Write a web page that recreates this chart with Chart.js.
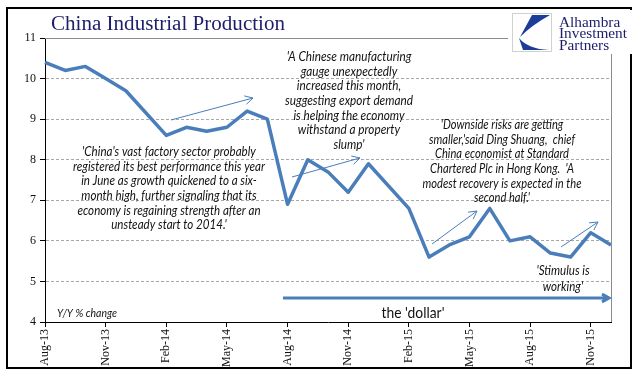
<!DOCTYPE html>
<html>
<head>
<meta charset="utf-8">
<title>China Industrial Production</title>
<script src="https://cdn.jsdelivr.net/npm/chart.js@4.4.1/dist/chart.umd.min.js"></script>
<style>
html, body { margin: 0; padding: 0; background: #fff; }
#wrap { width: 641px; height: 379px; }
</style>
</head>
<body>
<div id="wrap"><canvas id="chart" width="641" height="379"></canvas></div>
<script>
(function() {
    "use strict";

    // monthly, Jan figures are folded into Jan-Feb by NBS so they are missing
    var MONTHS = [
        "Aug-13", "Sep-13", "Oct-13", "Nov-13", "Dec-13",
        "Jan-14", "Feb-14", "Mar-14", "Apr-14", "May-14", "Jun-14", "Jul-14",
        "Aug-14", "Sep-14", "Oct-14", "Nov-14", "Dec-14",
        "Jan-15", "Feb-15", "Mar-15", "Apr-15", "May-15", "Jun-15", "Jul-15",
        "Aug-15", "Sep-15", "Oct-15", "Nov-15", "Dec-15"
    ];
    var IP_YOY = [
        10.4, 10.2, 10.3, 10.0, 9.7,
        null, 8.6, 8.8, 8.7, 8.8, 9.2, 9.0,
        6.9, 8.0, 7.7, 7.2, 7.9,
        null, 6.8, 5.6, 5.9, 6.1, 6.8, 6.0,
        6.1, 5.7, 5.6, 6.2, 5.9
    ];
    var Y_MIN = 4;
    var Y_MAX = 11;

    var TITLE = "China Industrial Production";
    var LOGO_LINES = ["Alhambra", "Investment", "Partners"];
    var UNIT_NOTE = "Y/Y % change";
    var DOLLAR_NOTE = "the 'dollar'";
    var NOTE_JUNE = [
        "'China's vast factory sector probably",
        "registered its best performance this year",
        "in June as growth quickened to a six-",
        "month high, further signaling that its",
        "economy is regaining strength after an",
        "unsteady start to 2014.'"
    ];
    var NOTE_SEPT = [
        "'A Chinese manufacturing",
        "gauge unexpectedly",
        "increased this month,",
        "suggesting export demand",
        "is helping the economy",
        "withstand a property",
        "slump'"
    ];
    var NOTE_MAY = [
        "'Downside risks are getting",
        "smaller,'said Ding Shuang,  chief",
        "China economist at Standard",
        "Chartered Plc in Hong Kong.  'A",
        "modest recovery is expected in the",
        "second half.'"
    ];
    var NOTE_NOV = ["'Stimulus is", "working'"];

    var LINE_COLOR = "#4a7ebb";
    var NAVY = "#1d1d6b";
    var GRID_COLOR = "#a8a8a8";
    var NOTE_FONT = "italic 13px Lato, 'Open Sans', sans-serif";

    // draw a block of centred lines squeezed so its widest line is `widest` px
    function fitLines(ctx, lines, font, widest, cx, y0, lead, align) {
        ctx.font = font;
        var w = 0;
        for (var i = 0; i < lines.length; i++) {
            w = Math.max(w, ctx.measureText(lines[i]).width);
        }
        ctx.save();
        ctx.translate(cx, 0);
        ctx.scale(widest / w, 1);
        ctx.textAlign = align || "center";
        ctx.textBaseline = "middle";
        for (i = 0; i < lines.length; i++) {
            ctx.fillText(lines[i], 0, y0 + i * lead);
        }
        ctx.restore();
    }

    function arrow(ctx, x1, y1, x2, y2, head) {
        var a = Math.atan2(y2 - y1, x2 - x1);
        ctx.beginPath();
        ctx.moveTo(x1, y1);
        ctx.lineTo(x2, y2);
        ctx.moveTo(x2 - head * Math.cos(a - 0.5), y2 - head * Math.sin(a - 0.5));
        ctx.lineTo(x2, y2);
        ctx.lineTo(x2 - head * Math.cos(a + 0.5), y2 - head * Math.sin(a + 0.5));
        ctx.stroke();
    }

    function drawLogo(ctx) {
        ctx.save();
        ctx.fillStyle = "#fff";
        ctx.fillRect(508, 10, 125, 44);
        ctx.strokeStyle = "#d0d0d0";
        ctx.lineWidth = 1;
        ctx.strokeRect(512.5, 13.5, 39, 38);
        ctx.fillStyle = "#1b3c98";
        ctx.beginPath();
        ctx.moveTo(532, 15);
        ctx.lineTo(550, 15);
        ctx.quadraticCurveTo(532, 25, 520, 37);
        ctx.closePath();
        ctx.fill();
        ctx.beginPath();
        ctx.moveTo(519, 38);
        ctx.quadraticCurveTo(528, 49, 549, 50);
        ctx.lineTo(523, 50);
        ctx.closePath();
        ctx.fill();
        ctx.fillStyle = NAVY;
        fitLines(ctx, LOGO_LINES, "15px 'Liberation Serif', serif", 68, 559, 23, 11.5, "left");
        ctx.restore();
    }

    var decor = {
        id: "decor",
        beforeDraw: function(chart) {
            var ctx = chart.ctx;
            ctx.save();
            ctx.fillStyle = "#fff";
            ctx.fillRect(0, 0, chart.width, chart.height);
            ctx.restore();
        },
        afterDraw: function(chart) {
            var ctx = chart.ctx;
            var area = chart.chartArea;
            ctx.save();

            // top and right frame of the plot
            ctx.strokeStyle = "#8c8c8c";
            ctx.lineWidth = 1;
            ctx.beginPath();
            ctx.moveTo(area.left, area.top + 0.5);
            ctx.lineTo(area.right, area.top + 0.5);
            ctx.moveTo(area.right + 0.5, area.top);
            ctx.lineTo(area.right + 0.5, area.bottom);
            ctx.stroke();

            // outer border
            ctx.strokeStyle = "#000";
            ctx.lineWidth = 2;
            ctx.strokeRect(7, 8, 624, 360);

            ctx.fillStyle = NAVY;
            fitLines(ctx, [TITLE], "20px 'Liberation Serif', serif", 234, 51, 25, 0, "left");

            ctx.fillStyle = "#111";
            fitLines(ctx, NOTE_JUNE, NOTE_FONT, 192, 169, 152, 14.6);
            fitLines(ctx, NOTE_SEPT, NOTE_FONT, 128, 349, 57, 14.6);
            fitLines(ctx, NOTE_MAY, NOTE_FONT, 159, 502, 125, 14.6);
            fitLines(ctx, NOTE_NOV, NOTE_FONT, 53, 563, 271, 15.5);
            fitLines(ctx, [UNIT_NOTE], "italic 11px Lato, sans-serif", 60, 57, 313, 0, "left");
            fitLines(ctx, [DOLLAR_NOTE], "16px Lato, 'Open Sans', sans-serif", 63, 413, 313, 0);

            ctx.strokeStyle = LINE_COLOR;
            ctx.lineWidth = 1;
            arrow(ctx, 171, 120, 253, 98, 9);
            arrow(ctx, 292, 177, 360, 158, 9);
            arrow(ctx, 432, 244, 477, 211, 9);
            arrow(ctx, 561, 247, 598, 222, 9);
            ctx.lineWidth = 3;
            arrow(ctx, 283, 298, 609, 298, 8);

            drawLogo(ctx);
            ctx.restore();
        }
    };

    var ctx = document.getElementById("chart").getContext("2d");
    new Chart(ctx, {
        type: "line",
        data: {
            labels: MONTHS,
            datasets: [{
                data: IP_YOY,
                borderColor: LINE_COLOR,
                borderWidth: 3.5,
                borderJoinStyle: "round",
                pointRadius: 0,
                tension: 0,
                spanGaps: true
            }]
        },
        options: {
            responsive: false,
            animation: false,
            events: [],
            layout: { padding: { left: 0, top: 38, right: 30, bottom: 0 } },
            plugins: {
                legend: { display: false },
                title: { display: false },
                tooltip: { enabled: false }
            },
            scales: {
                x: {
                    type: "category",
                    offset: false,
                    grid: {
                        drawOnChartArea: false,
                        drawTicks: true,
                        tickLength: 5,
                        tickColor: function(c) {
                            return c.index % 3 === 0 ? "#000" : "rgba(0,0,0,0)";
                        }
                    },
                    border: { color: "#000", width: 1 },
                    ticks: {
                        autoSkip: false,
                        minRotation: 90,
                        maxRotation: 90,
                        padding: 2,
                        color: "#111",
                        font: { family: "'Liberation Serif', serif", size: 12 },
                        callback: function(value, index) {
                            return index % 3 === 0 ? MONTHS[index] : "";
                        }
                    },
                    afterFit: function(scale) { scale.height = 57; }
                },
                y: {
                    min: Y_MIN,
                    max: Y_MAX,
                    grid: {
                        color: function(c) {
                            var v = c.tick ? c.tick.value : null;
                            return (v === Y_MIN || v === Y_MAX) ? "rgba(0,0,0,0)" : GRID_COLOR;
                        },
                        tickColor: "#000",
                        tickLength: 5
                    },
                    border: { color: "#000", width: 1, dash: [3, 2] },
                    ticks: {
                        stepSize: 1,
                        padding: 4,
                        color: "#111",
                        font: { family: "'Liberation Serif', serif", size: 12 }
                    },
                    afterFit: function(scale) { scale.width = 45; }
                }
            }
        },
        plugins: [decor]
    });
}());
</script>
</body>
</html>
